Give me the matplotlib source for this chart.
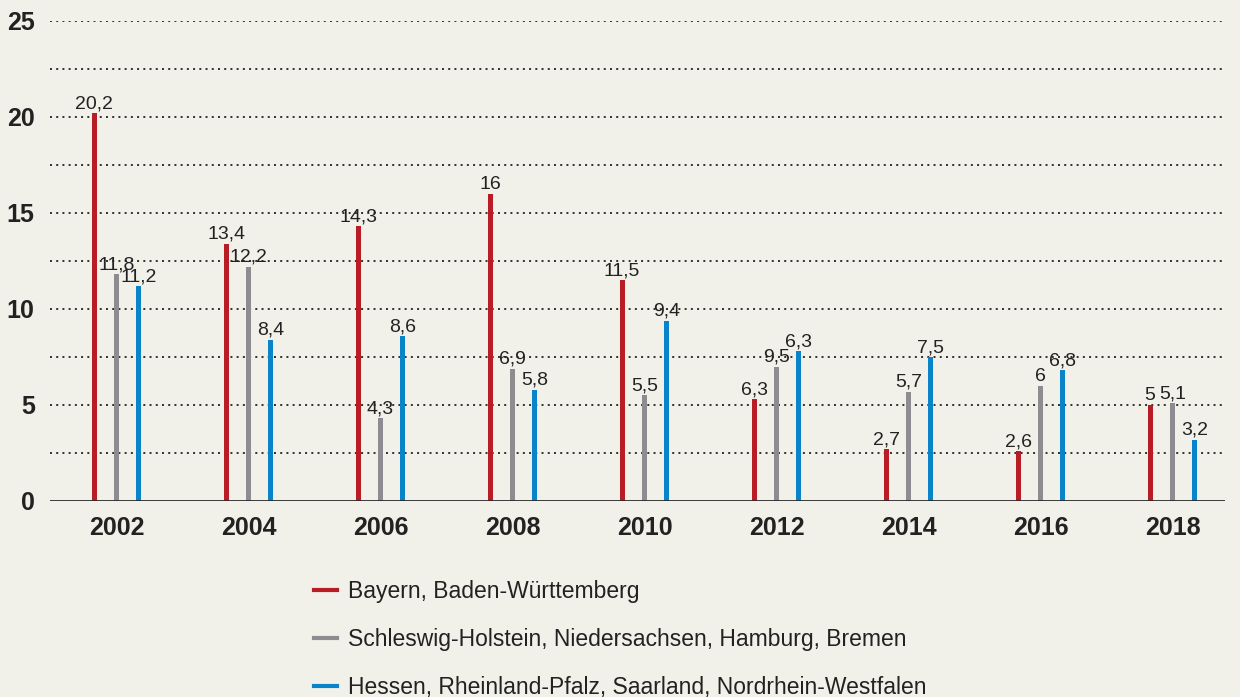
import numpy as np
import matplotlib.pyplot as plt

plt.rcParams['font.family'] = ['Liberation Sans', 'DejaVu Sans']

years = ['2002', '2004', '2006', '2008', '2010', '2012', '2014', '2016', '2018']
series_names = ['Bayern, Baden-Württemberg',
                'Schleswig-Holstein, Niedersachsen, Hamburg, Bremen',
                'Hessen, Rheinland-Pfalz, Saarland, Nordrhein-Westfalen']

# bar heights as drawn in the picture
sued = [20.2, 13.4, 14.3, 16.0, 11.5, 5.3, 2.7, 2.6, 5.0]
nord = [11.8, 12.2, 4.3, 6.9, 5.5, 7.0, 5.7, 6.0, 5.1]
west = [11.2, 8.4, 8.6, 5.8, 9.4, 7.8, 7.5, 6.8, 3.2]

# printed labels (2012 labels differ from the bar heights in the original)
sued_lbl = ['20,2', '13,4', '14,3', '16', '11,5', '6,3', '2,7', '2,6', '5']
nord_lbl = ['11,8', '12,2', '4,3', '6,9', '5,5', '9,5', '5,7', '6', '5,1']
west_lbl = ['11,2', '8,4', '8,6', '5,8', '9,4', '6,3', '7,5', '6,8', '3,2']

colors = ['#b81c25', '#8d8d91', '#0a84c8']
bg = '#f2f1e9'

fig = plt.figure(figsize=(12.4, 6.97), dpi=100, facecolor=bg)
ax = fig.add_axes([50/1240, 1 - 501/697, 1175/1240, 480/697])
ax.set_facecolor(bg)

x = np.arange(len(years))
off = 0.17
w = 0.038
for i, (vals, lbls) in enumerate([(sued, sued_lbl), (nord, nord_lbl), (west, west_lbl)]):
    xs = x + (i - 1) * off
    ax.bar(xs, vals, width=w, color=colors[i], zorder=3)
    for xi, v, t in zip(xs, vals, lbls):
        ax.annotate(t, (xi, v), xytext=(0, 3.5), textcoords='offset points',
                    ha='center', va='baseline', fontsize=14, color='#222222', zorder=4)

ax.set_xlim(-0.504, 8.398)
ax.set_ylim(0, 25)

for g in np.arange(2.5, 25.1, 2.5):
    ax.axhline(g, color='#2e2e2e', linewidth=1.4, linestyle=(0, (1, 2.2)), zorder=1)
ax.axhline(0, color='#2a2a2a', linewidth=2, zorder=5)

for s in ax.spines.values():
    s.set_visible(False)
ax.set_yticks([0, 5, 10, 15, 20, 25])
ax.set_yticklabels(['0', '5', '10', '15', '20', '25'], fontsize=18, fontweight='bold', color='#222222')
ax.set_xticks(x)
ax.set_xticklabels(years, fontsize=18, fontweight='bold', color='#222222')
ax.tick_params(axis='y', length=0, pad=11)
ax.tick_params(axis='x', length=0, pad=11)

handles = [plt.Line2D([], [], color=c, linewidth=3) for c in colors]
fig.legend(handles, series_names, loc='upper left', bbox_to_anchor=(314/1240, 1 - 580/697),
           frameon=False, fontsize=16.5, handlelength=1.0, handletextpad=0.5,
           labelspacing=1.1, borderpad=0, borderaxespad=0, labelcolor='#222222')

fig.savefig('out.png', dpi=100, facecolor=bg)
